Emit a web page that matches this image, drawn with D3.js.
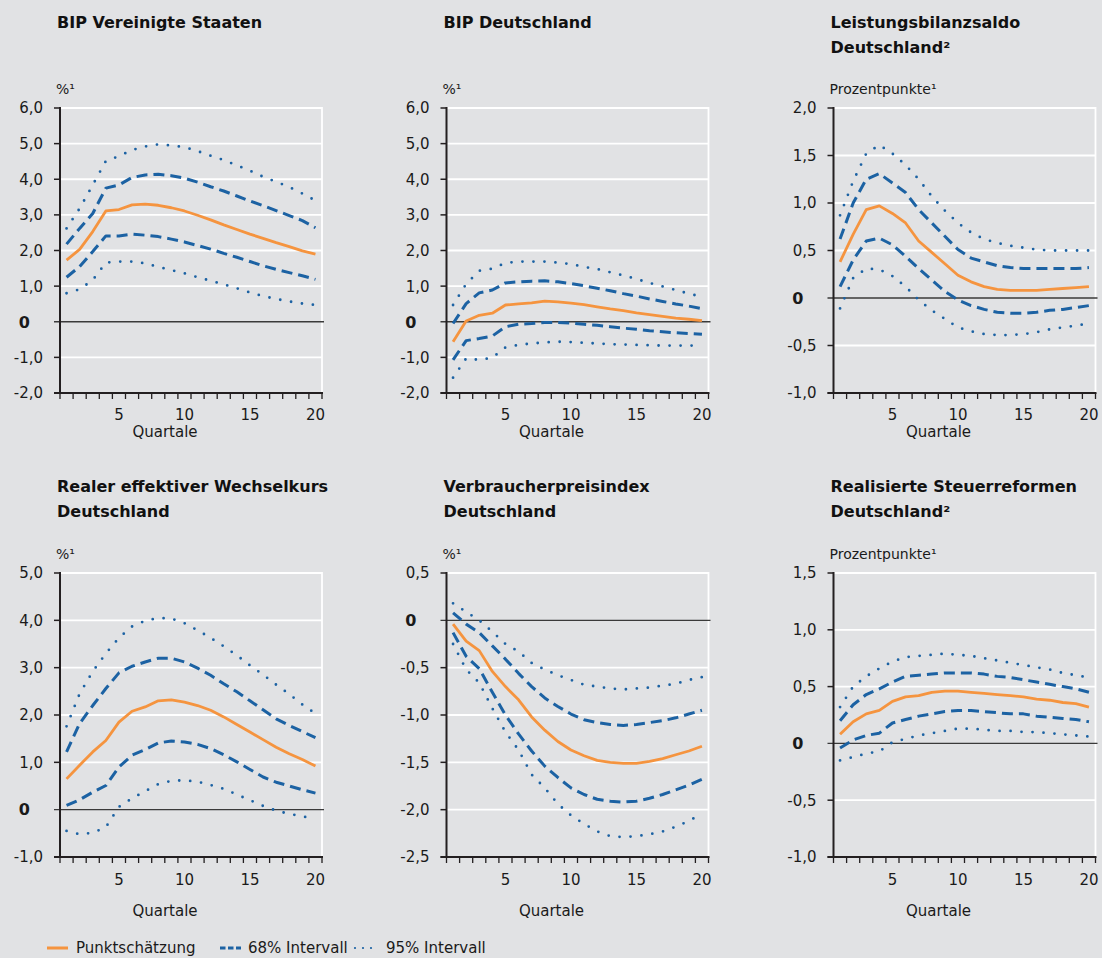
<!DOCTYPE html>
<html><head><meta charset="utf-8">
<script src="https://cdnjs.cloudflare.com/ajax/libs/d3/7.8.5/d3.min.js"></script>
<style>
html,body{margin:0;padding:0;background:#e1e2e4;}
svg{display:block;}
text{font-family:"DejaVu Sans",sans-serif;fill:#1a1a1a;}
.title{font-family:"DejaVu Sans",sans-serif;font-weight:bold;font-size:16px;fill:#111;}
</style></head>
<body>
<svg id="chart" width="1102" height="958"></svg>
<script>
const quarters = [1,2,3,4,5,6,7,8,9,10,11,12,13,14,15,16,17,18,19,20];
const xTickLabels = [5,10,15,20];
const seriesNames = ["Punktschätzung","68% Intervall","95% Intervall"];

// Panel 1: BIP Vereinigte Staaten
const usPoint = [1.73,2.03,2.53,3.11,3.15,3.28,3.30,3.27,3.20,3.11,2.99,2.86,2.72,2.59,2.46,2.34,2.22,2.11,1.99,1.90];
const usUp68  = [2.18,2.62,3.04,3.75,3.84,4.05,4.12,4.14,4.10,4.03,3.92,3.79,3.67,3.53,3.39,3.26,3.12,2.98,2.84,2.64];
const usLo68  = [1.25,1.55,1.97,2.41,2.41,2.46,2.43,2.39,2.32,2.24,2.14,2.04,1.92,1.81,1.69,1.57,1.47,1.38,1.29,1.19];
const usUp95  = [2.62,3.18,3.84,4.51,4.65,4.82,4.92,4.98,4.95,4.90,4.79,4.66,4.54,4.39,4.24,4.07,3.93,3.78,3.60,3.40];
const usLo95  = [0.80,0.91,1.17,1.66,1.69,1.69,1.64,1.54,1.45,1.36,1.25,1.15,1.05,0.94,0.82,0.72,0.64,0.57,0.51,0.47];
const usTicks = ["6,0","5,0","4,0","3,0","2,0","1,0","0","-1,0","-2,0"];

// Panel 2: BIP Deutschland
const dePoint = [-0.56,0.02,0.18,0.24,0.47,0.50,0.53,0.58,0.56,0.52,0.48,0.42,0.36,0.31,0.25,0.20,0.15,0.10,0.07,0.03];
const deUp68  = [-0.05,0.51,0.81,0.89,1.09,1.12,1.14,1.15,1.12,1.07,1.01,0.94,0.87,0.79,0.72,0.64,0.57,0.50,0.44,0.37];
const deLo68  = [-1.07,-0.53,-0.47,-0.40,-0.14,-0.07,-0.05,-0.02,-0.02,-0.04,-0.07,-0.10,-0.14,-0.18,-0.21,-0.25,-0.28,-0.31,-0.33,-0.35];
const deUp95  = [0.47,1.06,1.43,1.49,1.65,1.69,1.69,1.69,1.66,1.62,1.54,1.48,1.39,1.30,1.20,1.09,0.99,0.89,0.79,0.70];
const deLo95  = [-1.57,-1.03,-1.07,-1.01,-0.72,-0.65,-0.61,-0.58,-0.56,-0.57,-0.59,-0.61,-0.63,-0.64,-0.65,-0.66,-0.67,-0.67,-0.67,-0.67];
const deTicks = ["6,0","5,0","4,0","3,0","2,0","1,0","0","-1,0","-2,0"];

// Panel 3: Leistungsbilanzsaldo Deutschland
const caPoint = [0.38,0.67,0.93,0.97,0.89,0.79,0.60,0.48,0.36,0.24,0.17,0.12,0.09,0.08,0.08,0.08,0.09,0.10,0.11,0.12];
const caUp68  = [0.62,1.00,1.25,1.31,1.21,1.11,0.93,0.79,0.65,0.51,0.42,0.38,0.34,0.32,0.31,0.31,0.31,0.31,0.31,0.32];
const caLo68  = [0.12,0.40,0.60,0.63,0.56,0.44,0.31,0.19,0.07,-0.02,-0.08,-0.12,-0.15,-0.16,-0.16,-0.15,-0.13,-0.12,-0.10,-0.08];
const caUp95  = [0.87,1.23,1.52,1.61,1.52,1.40,1.25,1.07,0.92,0.79,0.69,0.62,0.58,0.55,0.53,0.51,0.50,0.50,0.50,0.50];
const caLo95  = [-0.11,0.21,0.31,0.30,0.23,0.12,-0.02,-0.13,-0.22,-0.31,-0.35,-0.38,-0.39,-0.39,-0.38,-0.36,-0.33,-0.31,-0.29,-0.27];
const caTicks = ["2,0","1,5","1,0","0,5","0","-0,5","-1,0"];

// Panel 4: Realer effektiver Wechselkurs Deutschland
const fxPoint = [0.65,0.94,1.22,1.46,1.85,2.08,2.17,2.30,2.32,2.27,2.20,2.10,1.96,1.80,1.64,1.48,1.32,1.18,1.06,0.92];
const fxUp68  = [1.22,1.82,2.20,2.56,2.89,3.03,3.12,3.20,3.20,3.12,2.99,2.84,2.66,2.49,2.30,2.11,1.92,1.78,1.65,1.52];
const fxLo68  = [0.09,0.21,0.37,0.51,0.90,1.15,1.27,1.41,1.45,1.43,1.38,1.29,1.16,1.01,0.85,0.69,0.58,0.50,0.42,0.35];
const fxUp95  = [1.76,2.45,2.92,3.30,3.63,3.87,3.99,4.05,4.04,3.94,3.79,3.63,3.45,3.26,3.05,2.85,2.64,2.44,2.22,2.03];
const fxLo95  = [-0.45,-0.52,-0.49,-0.37,0.06,0.24,0.39,0.54,0.61,0.62,0.59,0.52,0.44,0.32,0.20,0.08,-0.02,-0.09,-0.14,-0.20];
const fxTicks = ["5,0","4,0","3,0","2,0","1,0","0","-1,0"];

// Panel 5: Verbraucherpreisindex Deutschland
const cpiPoint = [-0.04,-0.22,-0.32,-0.54,-0.70,-0.84,-1.02,-1.16,-1.28,-1.37,-1.43,-1.48,-1.50,-1.51,-1.51,-1.49,-1.46,-1.42,-1.38,-1.33];
const cpiUp68  = [0.08,-0.04,-0.13,-0.27,-0.41,-0.56,-0.70,-0.82,-0.91,-0.99,-1.05,-1.08,-1.10,-1.11,-1.10,-1.08,-1.06,-1.03,-0.99,-0.95];
const cpiLo68  = [-0.13,-0.38,-0.51,-0.76,-1.00,-1.20,-1.38,-1.54,-1.66,-1.77,-1.84,-1.89,-1.91,-1.92,-1.91,-1.88,-1.84,-1.79,-1.74,-1.68];
const cpiUp95  = [0.18,0.09,0.00,-0.12,-0.25,-0.33,-0.45,-0.52,-0.58,-0.63,-0.68,-0.70,-0.72,-0.73,-0.72,-0.71,-0.69,-0.67,-0.63,-0.60];
const cpiLo95  = [-0.25,-0.52,-0.66,-0.93,-1.18,-1.37,-1.63,-1.77,-1.94,-2.06,-2.15,-2.23,-2.28,-2.29,-2.28,-2.26,-2.23,-2.18,-2.12,-2.04];
const cpiTicks = ["0,5","0","-0,5","-1,0","-1,5","-2,0","-2,5"];

// Panel 6: Realisierte Steuerreformen Deutschland
const taxPoint = [0.08,0.19,0.26,0.29,0.37,0.41,0.42,0.45,0.46,0.46,0.45,0.44,0.43,0.42,0.41,0.39,0.38,0.36,0.35,0.32];
const taxUp68  = [0.20,0.34,0.43,0.48,0.54,0.59,0.60,0.61,0.62,0.62,0.62,0.61,0.59,0.58,0.56,0.54,0.52,0.50,0.48,0.45];
const taxLo68  = [-0.04,0.03,0.07,0.09,0.18,0.21,0.24,0.26,0.28,0.29,0.29,0.28,0.27,0.26,0.26,0.24,0.23,0.22,0.21,0.19];
const taxUp95  = [0.32,0.50,0.59,0.66,0.72,0.76,0.77,0.78,0.79,0.78,0.77,0.75,0.73,0.71,0.69,0.67,0.65,0.62,0.60,0.58];
const taxLo95  = [-0.15,-0.12,-0.09,-0.07,0.01,0.04,0.07,0.09,0.11,0.13,0.13,0.12,0.11,0.11,0.10,0.10,0.09,0.08,0.07,0.06];
const taxTicks = ["1,5","1,0","0,5","0","-0,5","-1,0"];

const COL = {bg:"#e1e2e4", orange:"#f5943f", blue:"#1c62a3", axis:"#231f20", grid:"#ffffff"};

const toNum = s => +s.replace(",", ".");

const panels = [
  {title:["BIP Vereinigte Staaten"], unit:"%¹", ticks:usTicks, s:[usPoint,usUp68,usLo68,usUp95,usLo95], col:0, row:0},
  {title:["BIP Deutschland"], unit:"%¹", ticks:deTicks, s:[dePoint,deUp68,deLo68,deUp95,deLo95], col:1, row:0},
  {title:["Leistungsbilanzsaldo","Deutschland²"], unit:"Prozentpunkte¹", ticks:caTicks, s:[caPoint,caUp68,caLo68,caUp95,caLo95], col:2, row:0},
  {title:["Realer effektiver Wechselkurs","Deutschland"], unit:"%¹", ticks:fxTicks, s:[fxPoint,fxUp68,fxLo68,fxUp95,fxLo95], col:0, row:1},
  {title:["Verbraucherpreisindex","Deutschland"], unit:"%¹", ticks:cpiTicks, s:[cpiPoint,cpiUp68,cpiLo68,cpiUp95,cpiLo95], col:1, row:1},
  {title:["Realisierte Steuerreformen","Deutschland²"], unit:"Prozentpunkte¹", ticks:taxTicks, s:[taxPoint,taxUp68,taxLo68,taxUp95,taxLo95], col:2, row:1}
];

const colLeft = [60, 446.5, 833.5];
const PW = 262;
const rows = [
  {top:108, bottom:393, t1:28, tickY:420, qY:437},
  {top:573, bottom:857, t1:492, tickY:885, qY:916}
];

const svg = d3.select("#chart");
svg.append("rect").attr("width",1102).attr("height",958).attr("fill",COL.bg);

panels.forEach(p => {
  const L = colLeft[p.col], R = L + PW, rw = rows[p.row];
  const vals = p.ticks.map(toNum);
  const x = d3.scaleLinear().domain([0.5, 20.5]).range([L, R]);
  const y = d3.scaleLinear().domain([d3.min(vals), d3.max(vals)]).range([rw.bottom, rw.top]);
  const g = svg.append("g");

  // title
  p.title.forEach((t,i) => g.append("text").attr("class","title").attr("x", L-3).attr("y", rw.t1 + i*24.5).text(t));
  // unit
  g.append("text").attr("x", L-4).attr("y", rw.top-14).style("font-size","14px").text(p.unit);

  // gridlines
  vals.forEach(v => {
    if (v === 0 || v === d3.min(vals)) return;
    g.append("line").attr("x1", L).attr("x2", R).attr("y1", y(v)).attr("y2", y(v))
      .attr("stroke", COL.grid).attr("stroke-width", 1.8);
  });
  // right border
  g.append("line").attr("x1", R).attr("x2", R).attr("y1", rw.top-0.9).attr("y2", rw.bottom)
    .attr("stroke", COL.grid).attr("stroke-width", 1.8);

  // zero line
  g.append("line").attr("x1", L-6).attr("x2", R+2).attr("y1", y(0)).attr("y2", y(0))
    .attr("stroke", "#3a3a3a").attr("stroke-width", 1.3);

  // y ticks & labels
  vals.forEach((v,i) => {
    if (v !== 0) {
      g.append("line").attr("x1", L-6).attr("x2", L).attr("y1", y(v)).attr("y2", y(v))
        .attr("stroke", COL.axis).attr("stroke-width", 1.5);
      g.append("text").attr("x", L-17).attr("y", y(v)).attr("dy","0.36em")
        .attr("text-anchor","end").style("font-size","15px").text(p.ticks[i]);
    } else {
      g.append("text").attr("x", L-30).attr("y", y(v)).attr("dy","0.36em")
        .attr("text-anchor","end").style("font-size","16px").style("font-weight","bold").text(p.ticks[i]);
    }
  });

  // x ticks
  d3.range(0.5, 21, 1).forEach(t => {
    g.append("line").attr("x1", x(t)).attr("x2", x(t)).attr("y1", rw.bottom).attr("y2", rw.bottom+6)
      .attr("stroke", COL.axis).attr("stroke-width", 1.3);
  });
  xTickLabels.forEach(t => g.append("text").attr("x", x(t)).attr("y", rw.tickY)
    .attr("text-anchor","middle").style("font-size","15px").text(t));
  g.append("text").attr("x", L+105).attr("y", rw.qY).attr("text-anchor","middle")
    .style("font-size","15px").text("Quartale");

  // axes lines
  g.append("line").attr("x1", L).attr("x2", L).attr("y1", rw.top-1).attr("y2", rw.bottom+1)
    .attr("stroke", COL.axis).attr("stroke-width", 2);
  g.append("line").attr("x1", L-6).attr("x2", R+1).attr("y1", rw.bottom).attr("y2", rw.bottom)
    .attr("stroke", COL.axis).attr("stroke-width", 2);

  // series
  const line = d3.line().x((d,i) => x(quarters[i])).y(d => y(d));
  const styles = [
    {stroke:COL.orange, w:2.8, dash:null, cap:"butt"},
    {stroke:COL.blue, w:3, dash:"11,6", cap:"butt"},
    {stroke:COL.blue, w:3, dash:"11,6", cap:"butt"},
    {stroke:COL.blue, w:2.8, dash:"0,11", cap:"round"},
    {stroke:COL.blue, w:2.8, dash:"0,11", cap:"round"}
  ];
  [3,4,1,2,0].forEach(k => {
    const st = styles[k];
    g.append("path").datum(p.s[k]).attr("d", line).attr("fill","none")
      .attr("stroke", st.stroke).attr("stroke-width", st.w)
      .attr("stroke-dasharray", st.dash).attr("stroke-linecap", st.cap)
      .attr("stroke-linejoin","round");
  });
});

// legend
const lg = svg.append("g");
const ly = 948;
const legendItems = [
  {x1:47, x2:68, tx:76, st:{stroke:COL.orange, w:3, dash:null, cap:"butt"}},
  {x1:220, x2:241, tx:248, st:{stroke:COL.blue, w:3, dash:"5.5,2.5", cap:"butt"}},
  {x1:355, x2:378, tx:386, st:{stroke:COL.blue, w:2.2, dash:"0,8", cap:"round"}}
];
legendItems.forEach((it,i) => {
  lg.append("line").attr("x1", it.x1).attr("x2", it.x2).attr("y1", ly).attr("y2", ly)
    .attr("stroke", it.st.stroke).attr("stroke-width", it.st.w)
    .attr("stroke-dasharray", it.st.dash).attr("stroke-linecap", it.st.cap);
  lg.append("text").attr("x", it.tx).attr("y", ly+5).style("font-size","15px").text(seriesNames[i]);
});
</script>
</body></html>
